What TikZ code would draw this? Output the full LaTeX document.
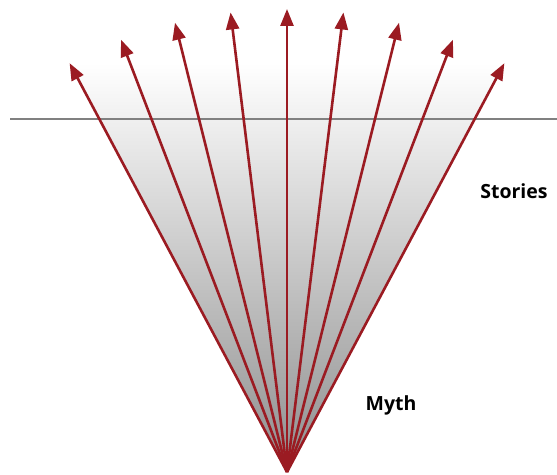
\documentclass[tikz,border=0pt]{standalone}
\usepackage{fontspec}
\setmainfont{Open Sans}
\usepackage{tikz}
\usetikzlibrary{arrows.meta,calc}
\definecolor{mythred}{HTML}{9B1B22}
\definecolor{fangray}{HTML}{8E8E8E}
\definecolor{rulegray}{HTML}{808080}

\begin{document}
\begin{tikzpicture}[
  x=1pt,y=1pt,
  font=\fontsize{19.5}{22}\selectfont\bfseries,
  ray/.style={mythred,line width=2.6pt,-{Triangle[length=17pt,width=13pt]}},
  label/.style={inner sep=0pt,anchor=center}
]
\useasboundingbox (0,0) rectangle (557,474);
\coordinate (apex) at (287,2);
% tips of the fan, 7 degrees apart
\foreach \i/\a in {1/118,2/111,3/104,4/97,5/90,6/83,7/76,8/69,9/62}
  \coordinate (tip\i) at ($(apex)+(\a:463)$);
\shade[top color=white,bottom color=fangray] (apex) -- (tip1) -- (tip9) -- cycle;
\coordinate (horizonL) at (10,355);
\coordinate (horizonR) at (557,355);
\draw[rulegray,line width=1.2pt] (horizonL) -- (horizonR);
\foreach \i in {1,...,9}
  \draw[ray] (apex) -- (tip\i);
\node[label] (stories) at (514,283) {Stories};
\node[label] (myth) at (391,69) {Myth};
\end{tikzpicture}
\end{document}
